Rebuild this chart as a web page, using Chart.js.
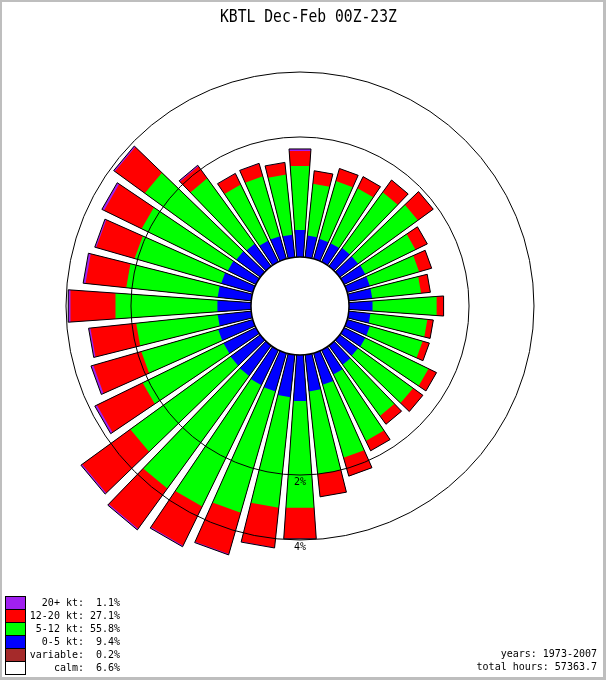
<!DOCTYPE html>
<html>
<head>
<meta charset="utf-8">
<title>KBTL Dec-Feb 00Z-23Z</title>
<script src="https://cdn.jsdelivr.net/npm/chart.js@4.4.1/dist/chart.umd.min.js"></script>
<style>
  html, body { margin: 0; padding: 0; background: #fff; }
  #wrap { position: relative; width: 606px; height: 680px; overflow: hidden; background: #fff; }
  #rose { position: absolute; left: 0; top: 0; }
  #frame {
    position: absolute; left: 0; top: 0; width: 606px; height: 680px;
    box-sizing: border-box; border-style: solid; border-color: #bebebe;
    border-width: 2px 3px 3px 2px; pointer-events: none;
  }
  #title {
    position: absolute; left: 220px; top: 5px; white-space: pre;
    font: 14.7px "DejaVu Sans Mono", monospace; color: #000;
    transform: scaleY(1.18); transform-origin: 0 0;
  }
  .mono { font: 10px "DejaVu Sans Mono", monospace; color: #000; white-space: pre; }
  #legend { position: absolute; left: 5px; top: 596px; width: 115px; }
  .row { position: relative; height: 13px; }
  .sw { position: absolute; left: 0; top: 0; box-sizing: border-box; width: 21px; height: 14px; border: 1px solid #000; }
  .lab { position: absolute; right: 36px; top: 0; line-height: 13px; }
  .val { position: absolute; right: 0; top: 0; line-height: 13px; }
  #footer { position: absolute; right: 9px; top: 648px; text-align: right; line-height: 12.5px; }
</style>
</head>
<body>
<div id="wrap">
  <canvas id="rose" width="606" height="680"></canvas>
  <div id="title">KBTL Dec-Feb 00Z-23Z</div>
  <div id="legend" class="mono"></div>
  <div id="footer" class="mono"></div>
  <div id="frame"></div>
</div>
<script>
// direction the wind blows from (deg), then % of hours in each speed class
const directions = [10, 20, 30, 40, 50, 60, 70, 80, 90, 100, 110, 120,
  130, 140, 150, 160, 170, 180, 190, 200, 210, 220, 230, 240,
  250, 260, 270, 280, 290, 300, 310, 320, 330, 340, 350, 360];

const speed0to5 = [0.20, 0.19, 0.19, 0.21, 0.21, 0.22, 0.22, 0.22, 0.22, 0.20, 0.22, 0.22,
  0.21, 0.22, 0.26, 0.33, 0.38, 0.51, 0.46, 0.42, 0.41, 0.39, 0.38, 0.37,
  0.37, 0.34, 0.34, 0.34, 0.33, 0.31, 0.29, 0.27, 0.22, 0.22, 0.21, 0.26];

const speed5to12 = [0.77, 0.92, 0.94, 1.12, 1.23, 0.86, 0.77, 0.73, 1.03, 0.87, 0.84, 1.16,
  1.10, 1.01, 1.28, 1.39, 1.62, 2.43, 2.50, 2.93, 3.21, 3.32, 2.80, 1.79,
  1.53, 1.55, 2.09, 1.81, 1.75, 1.88, 2.34, 1.45, 0.99, 0.99, 0.94, 1.06];

const speed12to20 = [0.26, 0.27, 0.27, 0.34, 0.45, 0.27, 0.26, 0.18, 0.15, 0.12, 0.14, 0.20,
  0.27, 0.22, 0.26, 0.49, 0.63, 1.03, 1.36, 1.55, 1.63, 1.90, 2.18, 1.56,
  1.45, 1.32, 1.43, 1.22, 1.17, 1.26, 1.19, 0.38, 0.26, 0.28, 0.25, 0.34];

const speed20plus = [0, 0, 0, 0, 0, 0, 0, 0, 0, 0, 0, 0,
  0, 0, 0, 0, 0, 0.01, 0.02, 0.04, 0.05, 0.06, 0.06, 0.08,
  0.08, 0.06, 0.08, 0.08, 0.05, 0.08, 0.05, 0.03, 0.01, 0.01, 0.01, 0.05];

const ringPct = [2, 4];

const legendLabels = ['20+ kt:', '12-20 kt:', '5-12 kt:', '0-5 kt:', 'variable:', 'calm:'];
const legendPct = [1.1, 27.1, 55.8, 9.4, 0.2, 6.6];
const legendColors = ['#a020f0', '#ff0000', '#00ff00', '#0000ff', '#a52a2a', '#ffffff'];
const yearsText = '1973-2007';
const totalHours = '57363.7';

// radial axis is area-proportional and starts at the calm circle
const HOLE = 0.1835;
const SCALE_MAX = 2.6224;
const BAR_ANGLE = 8;
const GAP_ANGLE = 2;
const toRadius = p => Math.sqrt(HOLE + p);

function cumulative(parts) {
  return directions.map((d, i) => parts.reduce((s, arr) => s + arr[i], 0));
}

// every bar is followed by an empty slice so the bars get a gap
function roseData(values) {
  const out = [];
  values.forEach(v => { out.push(toRadius(v)); out.push(0); });
  return out;
}

function layer(label, parts, fill) {
  return {
    label: label,
    data: roseData(cumulative(parts)),
    backgroundColor: fill,
    borderWidth: 0,
    circular: false,
    angle: ctx => (ctx.dataIndex % 2 === 0 ? BAR_ANGLE : GAP_ANGLE)
  };
}

const allParts = [speed0to5, speed5to12, speed12to20, speed20plus];
const outline = layer('outline', allParts, 'rgba(0,0,0,0)');
outline.borderColor = '#000';
outline.borderWidth = 1;

// first dataset is drawn last, so the smallest stack sits on top
const datasets = [
  outline,
  layer('0-5 kt', [speed0to5], legendColors[3]),
  layer('5-12 kt', allParts.slice(0, 2), legendColors[2]),
  layer('12-20 kt', allParts.slice(0, 3), legendColors[1]),
  layer('20+ kt', allParts, legendColors[0])
];

const calmAndLabels = {
  id: 'calmAndLabels',
  afterDatasetsDraw(chart) {
    const s = chart.scales.r;
    const ctx = chart.ctx;
    const r = s.getDistanceFromCenterForValue(toRadius(0));
    ctx.save();
    ctx.beginPath();
    ctx.arc(s.xCenter, s.yCenter, r, 0, Math.PI * 2);
    ctx.fillStyle = '#fff';
    ctx.fill();
    ctx.lineWidth = 1.5;
    ctx.strokeStyle = '#000';
    ctx.stroke();
    ctx.restore();
  },
  afterDraw(chart) {
    const s = chart.scales.r;
    const ctx = chart.ctx;
    ctx.save();
    ctx.font = '10px "DejaVu Sans Mono", monospace';
    ctx.fillStyle = '#000';
    ctx.textAlign = 'center';
    ctx.textBaseline = 'top';
    ringPct.forEach(p => {
      const d = s.getDistanceFromCenterForValue(toRadius(p));
      ctx.fillText(p + '%', s.xCenter, s.yCenter + d + 2);
    });
    ctx.restore();
  }
};

new Chart(document.getElementById('rose'), {
  type: 'polarArea',
  data: {
    labels: directions.flatMap(d => [d + '°', '']),
    datasets: datasets
  },
  options: {
    responsive: false,
    animation: false,
    events: [],
    layout: { padding: { left: 0, right: 6, top: 6, bottom: 74 } },
    plugins: {
      legend: { display: false },
      tooltip: { enabled: false }
    },
    scales: {
      r: {
        min: 0,
        max: SCALE_MAX,
        startAngle: directions[0] - BAR_ANGLE / 2,
        ticks: { display: false },
        pointLabels: { display: false },
        angleLines: { display: false },
        grid: { circular: true, color: '#000', lineWidth: 1, z: 1 },
        afterBuildTicks: scale => {
          scale.ticks = [{ value: 0 }].concat(ringPct.map(p => ({ value: toRadius(p) })));
        }
      }
    }
  },
  plugins: [calmAndLabels]
});

// legend and footer
const legend = document.getElementById('legend');
legendLabels.forEach((lab, i) => {
  const row = document.createElement('div');
  row.className = 'row';
  row.innerHTML = '<span class="sw" style="background:' + legendColors[i] + '"></span>' +
    '<span class="lab">' + lab + '</span>' +
    '<span class="val">' + legendPct[i].toFixed(1) + '%</span>';
  legend.appendChild(row);
});
document.getElementById('footer').innerHTML =
  'years: ' + yearsText + '<br>total hours: ' + totalHours;
</script>
</body>
</html>
